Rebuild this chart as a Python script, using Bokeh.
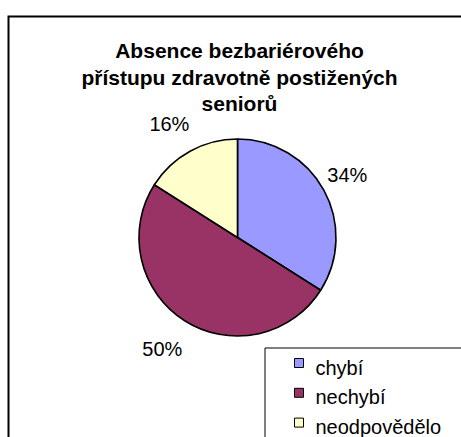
import math
from bokeh.plotting import figure
from bokeh.models import Range1d, ColumnDataSource
from bokeh.core.properties import value
from bokeh.embed import file_html
from bokeh.resources import INLINE

TITLE_LINES = ["Absence bezbariérového", "přístupu zdravotně postižených", "seniorů"]
CATEGORIES = ["chybí", "nechybí", "neodpovědělo"]
VALUES = [34, 50, 16]
COLORS = ["#9999FF", "#993366", "#FFFFCC"]

W, H = 461, 437
FONT = "Liberation Sans"


def X(px):
    return px


def Y(py):
    return H - py


p = figure(width=W, height=H, output_backend="svg", toolbar_location=None,
           x_range=Range1d(0, W), y_range=Range1d(0, H), min_border=0,
           x_axis_type=None, y_axis_type=None)
p.grid.visible = False
p.outline_line_color = None
p.background_fill_color = "white"
p.border_fill_color = "white"

# chart area border (left and top visible)
p.line(x=[X(8), X(8), X(500)], y=[Y(500), Y(16), Y(16)], line_width=2,
       line_color="black", line_join="miter")

# title
title_y = [Y(50 + i * 26.5) for i in range(len(TITLE_LINES))]
p.text(x=[X(239)] * len(TITLE_LINES), y=title_y, text=TITLE_LINES,
       text_font=value(FONT), text_font_style="bold", text_font_size="21px",
       text_align="center", text_baseline="alphabetic", text_color="black")

# pie
cx, cy, r = X(237), Y(237), 98.5
total = sum(VALUES)
starts, ends, cum = [], [], 0
for v in VALUES:
    starts.append(math.pi / 2 - 2 * math.pi * cum / total)
    cum += v
    ends.append(math.pi / 2 - 2 * math.pi * cum / total)

src = ColumnDataSource(dict(start=starts, end=ends, color=COLORS, cat=CATEGORIES))
p.wedge(x=cx, y=cy, radius=r, start_angle="start", end_angle="end",
        direction="clock", fill_color="color", line_color="black",
        line_width=1.6, source=src)

# outside-end percentage labels
lr = 131
mids = [(s + e) / 2 for s, e in zip(starts, ends)]
p.text(x=[cx + lr * math.cos(m) for m in mids],
       y=[cy + lr * math.sin(m) for m in mids],
       x_offset=-5, y_offset=1,
       text=[f"{v}%" for v in VALUES],
       text_font=value(FONT), text_font_size="20px",
       text_align="center", text_baseline="middle", text_color="black")

# legend (box extends beyond the visible area)
p.line(x=[X(264.5), X(264.5), X(500)], y=[Y(500), Y(347.5), Y(347.5)],
       line_width=1, line_color="black", line_join="miter")
n = len(CATEGORIES)
p.rect(x=[X(298.5)] * n, y=[Y(362.5 + i * 29.8) for i in range(n)],
       width=9, height=9, fill_color=COLORS, line_color="black", line_width=1)
p.text(x=[X(315)] * n, y=[Y(367 + i * 29.8) for i in range(n)], text=CATEGORIES,
       text_font=value(FONT), text_font_size="20px",
       text_align="left", text_baseline="alphabetic", text_color="black")

open("out.html", "w").write(file_html(p, INLINE))
